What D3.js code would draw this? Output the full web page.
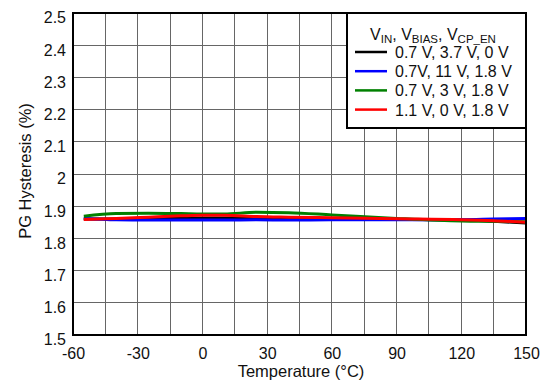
<!DOCTYPE html>
<html><head><meta charset="utf-8">
<script src="https://cdn.jsdelivr.net/npm/d3@7"></script>
<style>body{margin:0;background:#fff}svg{display:block;font-family:"Liberation Sans",Arial,sans-serif}</style>
</head><body><svg id="c" width="546" height="388"></svg>
<script>
const temps = [-55, -40, -25, -10, 0, 10, 25, 40, 60, 90, 120, 135, 150];
const seriesNames = ["0.7 V, 3.7 V, 0 V", "0.7V, 11 V, 1.8 V", "0.7 V, 3 V, 1.8 V", "1.1 V, 0 V, 1.8 V"];
const seriesColors = ["#000000", "#0000ff", "#008000", "#ff0000"];
const blackVals = [1.860, 1.860, 1.861, 1.862, 1.863, 1.863, 1.862, 1.861, 1.860, 1.859, 1.857, 1.853, 1.848];
const blueVals  = [1.862, 1.858, 1.857, 1.857, 1.857, 1.857, 1.858, 1.857, 1.858, 1.858, 1.858, 1.860, 1.862];
const greenVals = [1.869, 1.877, 1.878, 1.877, 1.876, 1.876, 1.881, 1.880, 1.873, 1.862, 1.854, 1.853, 1.852];
const redVals   = [1.859, 1.862, 1.866, 1.870, 1.872, 1.872, 1.868, 1.866, 1.864, 1.861, 1.858, 1.855, 1.850];
const xTicks = [-60, -30, 0, 30, 60, 90, 120, 150];
const xGrid = d3.range(-60, 151, 15);
const yTicks = [1.5, 1.6, 1.7, 1.8, 1.9, 2, 2.1, 2.2, 2.3, 2.4, 2.5];

const svg = d3.select("#c");
const L = 73, R = 526, T = 13, B = 335;
const x = d3.scaleLinear().domain([-60, 150]).range([L, R]);
const y = d3.scaleLinear().domain([1.5, 2.5]).range([B, T]);

// grid
svg.append("g").selectAll("line").data(xGrid).join("line")
  .attr("x1", d => x(d)).attr("x2", d => x(d)).attr("y1", T).attr("y2", B)
  .attr("stroke", "#666").attr("stroke-width", 1).attr("shape-rendering", "crispEdges");
svg.append("g").selectAll("line").data(yTicks).join("line")
  .attr("x1", L).attr("x2", R).attr("y1", d => y(d)).attr("y2", d => y(d))
  .attr("stroke", "#666").attr("stroke-width", 1).attr("shape-rendering", "crispEdges");

// axes labels via d3 axes
const xAxis = svg.append("g").attr("transform", `translate(0,${B})`)
  .call(d3.axisBottom(x).tickValues(xTicks).tickSize(0).tickPadding(13).tickFormat(d => String(d)));
xAxis.select(".domain").remove();
xAxis.selectAll("text").attr("font-size", 16).attr("fill", "#111").attr("font-family", "Liberation Sans, Arial, sans-serif");
const yAxis = svg.append("g").attr("transform", `translate(${L},0)`)
  .call(d3.axisLeft(y).tickValues(yTicks).tickSize(0).tickPadding(7).tickFormat(d => String(d)));
yAxis.select(".domain").remove();
yAxis.selectAll("text").attr("font-size", 16).attr("fill", "#111").attr("dy", "0.62em").attr("font-family", "Liberation Sans, Arial, sans-serif");

// lines
const allVals = [blackVals, blueVals, greenVals, redVals];
const line = d3.line().x((d, i) => x(temps[i])).y(d => y(d)).curve(d3.curveMonotoneX);
allVals.forEach((vals, k) => {
  svg.append("path").attr("d", line(vals)).attr("fill", "none")
    .attr("stroke", seriesColors[k]).attr("stroke-width", 3);
});

// frame
svg.append("rect").attr("x", L).attr("y", T).attr("width", R - L).attr("height", B - T)
  .attr("fill", "none").attr("stroke", "#000").attr("stroke-width", 2);

// axis titles
svg.append("text").attr("x", 301).attr("y", 377).attr("text-anchor", "middle")
  .attr("font-size", 16.5).attr("fill", "#111").text("Temperature (°C)");
svg.append("text").attr("transform", `translate(31,171) rotate(-90)`).attr("text-anchor", "middle")
  .attr("font-size", 16.5).attr("fill", "#111").text("PG Hysteresis (%)");

// legend
const lg = svg.append("g");
lg.append("rect").attr("x", 347).attr("y", 13).attr("width", 179).attr("height", 115)
  .attr("fill", "#fff").attr("stroke", "#000").attr("stroke-width", 2);
const title = lg.append("text").attr("x", 433).attr("y", 40).attr("text-anchor", "middle")
  .attr("font-size", 16).attr("fill", "#111");
title.append("tspan").text("V");
title.append("tspan").attr("font-size", 11.5).attr("dy", 3).text("IN");
title.append("tspan").attr("dy", -3).text(", V");
title.append("tspan").attr("font-size", 11.5).attr("dy", 3).text("BIAS");
title.append("tspan").attr("dy", -3).text(", V");
title.append("tspan").attr("font-size", 11.5).attr("dy", 3).text("CP_EN");
seriesNames.forEach((n, i) => {
  const yy = 52 + i * 19.2;
  lg.append("line").attr("x1", 355).attr("x2", 387).attr("y1", yy).attr("y2", yy)
    .attr("stroke", seriesColors[i]).attr("stroke-width", 2.5);
  lg.append("text").attr("x", 395).attr("y", yy + 6).attr("font-size", 16).attr("fill", "#111").text(n);
});
</script></body></html>
